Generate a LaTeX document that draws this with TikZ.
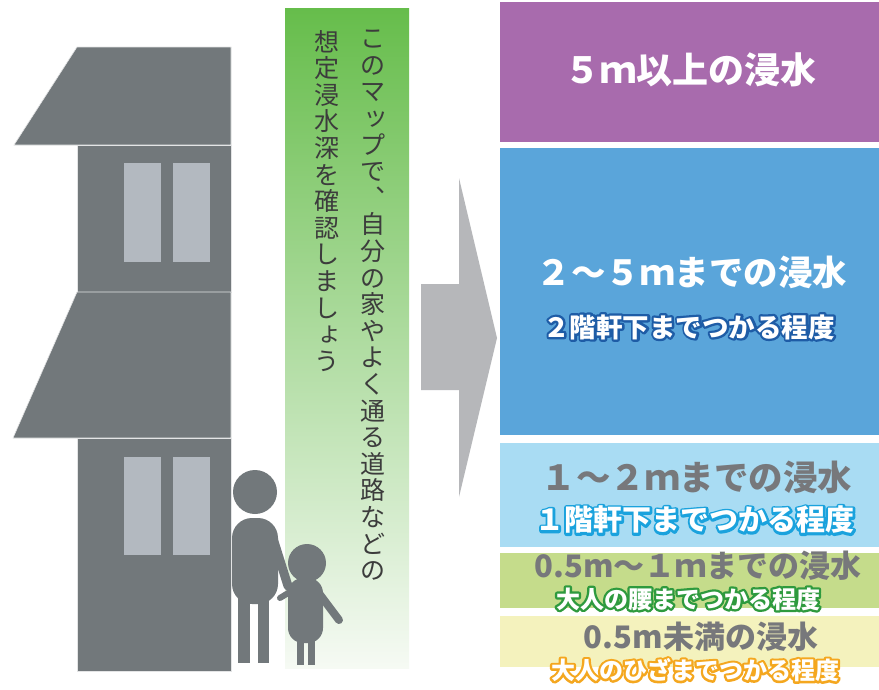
\documentclass[tikz,border=0pt]{standalone}
\usepackage{fontspec}
\newfontfamily\jp{Noto Sans CJK JP}

\definecolor{house}{HTML}{72787B}
\definecolor{pane}{HTML}{B3B9C0}
\definecolor{arrowgray}{HTML}{B6B7BA}
\definecolor{lvpurple}{HTML}{A86BAD}
\definecolor{lvblue}{HTML}{5AA5DA}
\definecolor{lvsky}{HTML}{A9DCF3}
\definecolor{lvgreen}{HTML}{C5DC8B}
\definecolor{lvyellow}{HTML}{F4F2BD}
\definecolor{labelgray}{HTML}{77787B}
\definecolor{rimnavy}{HTML}{1E5CA6}
\definecolor{rimcyan}{HTML}{1AA2DD}
\definecolor{rimgreen}{HTML}{2E9A3E}
\definecolor{rimorange}{HTML}{F4A71F}
\definecolor{bandtop}{HTML}{66BD4B}
\definecolor{bandbottom}{HTML}{F6FAF4}
\definecolor{vtext}{HTML}{3C3C3C}

% white lettering with a coloured rim: a stroked copy underneath, a plain fill on top
\newcommand\rimmed[2]{%
  \rlap{\color{#1}\special{pdf:literal direct 2 Tr 4.6 w 1 j}#2\special{pdf:literal direct 0 Tr}}%
  {\color{white}#2}}
% small kana and the comma sit in the upper right of their cell in vertical text
\newcommand\smallkana[1]{\makebox[1em]{\hspace*{0.22em}\raisebox{0.1em}{#1}}}

\tikzset{
  level/.style={fill=#1, draw=none},
  head/.style={font=\jp\bfseries\fontsize{#1}{#1}\selectfont, inner sep=0pt},
  sub/.style={font=\jp\bfseries\fontsize{#1}{#1}\selectfont, inner sep=0pt},
  vcol/.style={font=\jp\fontsize{25}{26.6}\selectfont, text=vtext, align=center, anchor=north, inner sep=0pt},
  figure/.style={fill=house, draw=none},
  limb/.style={draw=house, line cap=round},
}

\begin{document}
\begin{tikzpicture}[x=1pt, y=-1pt]
\useasboundingbox (0,0) rectangle (879,689);
\fill[white] (0,0) rectangle (879,689);

% house: two storeys with roofs
\fill[house, draw=white!80!house, line width=0.6pt] (77,47) -- (231,47) -- (231,145) -- (14,145) -- cycle;
\fill[house, draw=white!80!house, line width=0.6pt] (77,145) rectangle (231,292);
\fill[house, draw=white!80!house, line width=0.6pt] (77,292) -- (231,292) -- (231,438) -- (13,438) -- cycle;
\fill[house, draw=white!80!house, line width=0.6pt] (77,438) rectangle (231,671);
\fill[pane] (124,163) rectangle (161,262);
\fill[pane] (173,163) rectangle (210,262);
\fill[pane] (124,457) rectangle (161,555);
\fill[pane] (173,457) rectangle (210,555);

% gradient band with the vertical message
\shade[top color=bandtop, bottom color=bandbottom] (285,8) rectangle (409,668);
\node[vcol] (msgA) at (373,30) {こ\\の\\マ\\\smallkana{ッ}\\プ\\で\\︑\\自\\分\\の\\家\\や\\よ\\く\\通\\る\\道\\路\\な\\ど\\の};
\node[vcol] (msgB) at (327,30) {想\\定\\浸\\水\\深\\を\\確\\認\\し\\ま\\し\\\smallkana{ょ}\\う};

% adult
\fill[figure] (255,492) circle (22);
\fill[figure, rounded corners=20pt] (232,518) rectangle (278,604);
\fill[figure] (238,598) rectangle (250,663);
\fill[figure] (258,598) rectangle (269,663);
\draw[limb, line width=9pt] (271,532) -- (288,586);
% child
\fill[figure] (307,563) circle (19);
\fill[figure, rounded corners=15pt] (288,578) rectangle (323,643);
\fill[figure] (297,638) rectangle (304,665);
\fill[figure] (308,638) rectangle (315,665);
\draw[limb, line width=8pt] (318,592) -- (339,620);
\draw[limb, line width=6pt] (293,590) -- (280,598);

% arrow pointing to the legend
\fill[arrowgray] (421,284) -- (459,284) -- (459,178) -- (497,338) -- (459,497) -- (459,390) -- (421,390) -- cycle;

% depth levels
\fill[level=lvpurple] (500,2) rectangle (879,142);
\fill[level=lvblue] (500,148) rectangle (879,435);
\fill[level=lvsky] (500,443) rectangle (879,547);
\fill[level=lvgreen] (500,553) rectangle (879,608);
\fill[level=lvyellow] (500,616) rectangle (879,667);

\node[head=36, text=white] (l5) at (690,70) {５ｍ以上の浸水};
\node[head=34.5, text=white] (l25) at (692,272) {２～５ｍまでの浸水};
\node[sub=26.5] (s25) at (689,327) {\rimmed{rimnavy}{２階軒下までつかる程度}};
\node[head=34.5, text=labelgray] (l12) at (697,477) {１～２ｍまでの浸水};
\node[sub=29] (s12) at (695,520) {\rimmed{rimcyan}{１階軒下までつかる程度}};
\node[head=31, text=labelgray] (l051) at (698,566) {0.5m～１ｍまでの浸水};
\node[sub=24] (s051) at (688,599) {\rimmed{rimgreen}{大人の腰までつかる程度}};
\node[head=31, text=labelgray] (l05) at (701,637) {0.5m未満の浸水};
\node[sub=24] (s05) at (695,670) {\rimmed{rimorange}{大人のひざまでつかる程度}};
\end{tikzpicture}
\end{document}
